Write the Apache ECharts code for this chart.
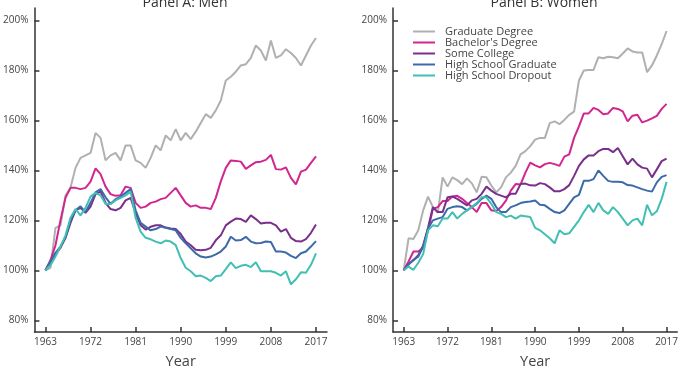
<!DOCTYPE html>
<html>
<head>
<meta charset="utf-8">
<script src="https://cdn.jsdelivr.net/npm/echarts@6/dist/echarts.min.js"></script>
<style>
  html, body { margin: 0; padding: 0; background: #fff; }
  #main { width: 681px; height: 374px; }
</style>
</head>
<body>
<div id="main"></div>
<script>
// years 1963..2017
var years = [];
for (var y = 1963; y <= 2017; y++) years.push(y);

var seriesNames = ['Graduate Degree', "Bachelor's Degree", 'Some College', 'High School Graduate', 'High School Dropout'];
var colors = ['#b0b0b0', '#d1268f', '#7a2f8c', '#3c6aa9', '#41bfb3'];
var yTicks = [80, 100, 120, 140, 160, 180, 200];
var xTicks = [1963, 1972, 1981, 1990, 1999, 2008, 2017];

// Panel A: Men
var gradM = [100, 101, 117, 118, 130, 133, 141, 145, 146, 147,
  155, 153, 144, 146, 147, 144, 150, 150, 144, 143,
  141, 145, 150, 148, 154, 152, 156.5, 152, 155, 152.5,
  155.5, 159, 162.5, 161, 164, 168, 176, 177.5, 179.5, 182,
  182.5, 185, 190, 188, 184, 192, 185, 186, 188.5, 187,
  185, 182, 186, 190, 193];
var bachM = [100, 104, 110, 120, 129, 133, 133, 132.5, 133, 135.5,
  140.8, 138.5, 133.5, 130.5, 129.8, 130, 133.5, 133, 127, 125,
  125.5, 127, 127.5, 128.5, 129, 131, 133, 130, 127, 125.5,
  126, 125, 125, 124.5, 129, 135.6, 141, 144, 143.8, 143.5,
  140.6, 142, 143.3, 143.5, 144.2, 146.2, 140.5, 140.3, 141.2, 137,
  134.4, 139.5, 140.3, 143, 145.6];
var someM = [100, 103, 106.5, 109, 113, 119, 124, 125, 123, 125.5,
  130.5, 131.5, 127, 124.5, 124, 125, 128, 129, 123, 118,
  116.3, 117.4, 118, 118, 117.1, 116.7, 116.5, 114.5, 111.5, 110,
  108.2, 108, 108.2, 109, 112, 114, 118, 119.5, 120.7, 120.5,
  119.4, 122, 120.5, 118.7, 119, 119, 118, 115.5, 116.5, 113,
  111.7, 111.5, 112.5, 115, 118.3];
var hsgM = [100, 103.5, 107, 109.5, 113, 120, 124, 125.6, 123.3, 127,
  131.2, 132.5, 129.2, 126.6, 128.5, 129.5, 131, 132.5, 124, 119,
  117.5, 116, 116.5, 117.5, 117, 116.5, 116, 113, 110.8, 108.8,
  106.8, 105.5, 105.1, 105.5, 106.4, 107.5, 109.5, 113.4, 111.9, 112.1,
  113.4, 111.5, 110.8, 110.9, 111.5, 111.3, 107.5, 107.5, 107.1, 105.8,
  104.9, 106.8, 107.5, 109.5, 111.7];
var hsdM = [100, 102, 105.5, 109.5, 114, 121, 124.5, 122, 125, 129.5,
  131, 130, 126.5, 126.5, 128, 129, 130, 131.5, 121, 115.5,
  113, 112.4, 111.5, 110.8, 111.9, 111.5, 110.1, 104.9, 101, 99.6,
  97.6, 97.9, 97, 95.7, 97.6, 97.9, 100.5, 103.2, 100.9, 101.8,
  102.2, 101.3, 103.2, 99.6, 99.6, 99.6, 99, 97.9, 99.6, 94.4,
  96.4, 99.2, 99, 102.2, 106.8];

// Panel B: Women
var gradW = [100, 112.8, 112.5, 116, 124, 129.5, 125.3, 123, 137.2, 133.5,
  137.2, 136.1, 134.5, 136.8, 134.8, 131.2, 137.4, 137.2, 133.9, 131.2,
  133.2, 137.2, 139.1, 141.8, 146.4, 147.7, 149.7, 152.3, 153, 153,
  158.9, 159.6, 158.5, 160.2, 162.2, 163.5, 176, 180, 180.2, 180.2,
  185.3, 184.9, 185.5, 185.3, 184.9, 186.8, 188.8, 187.6, 187.2, 187.2,
  179.3, 182, 186, 190.5, 195.8];
var bachW = [100, 103.5, 107.5, 107.5, 109, 116, 124.6, 125.3, 127.7, 127.7,
  129.5, 129.8, 128.6, 126.9, 125.3, 123.3, 126.9, 126.9, 124, 123.7,
  125.3, 127.9, 131.9, 134.5, 134.3, 139.1, 143.1, 142, 141.2, 142.5,
  143, 142.5, 141.8, 145.5, 146.4, 153, 157.6, 162.8, 162.8, 165,
  164.2, 162.5, 162.8, 165, 164.6, 163.6, 159.6, 161.9, 162.3, 159.2,
  159.9, 160.8, 161.8, 164.6, 166.6];
var someW = [100, 102.5, 104, 106, 110, 117, 125.3, 123.3, 123.3, 129.2,
  129.5, 128.6, 127.3, 126, 128, 128.6, 130.6, 133.5, 131.9, 130.6,
  129.9, 129.2, 130.6, 130.6, 134.5, 134.7, 134, 133.9, 134.9, 134.5,
  133.2, 131.6, 131.6, 132.5, 134.1, 137.8, 141.8, 144.4, 146, 146,
  147.7, 148.6, 148.6, 147.3, 149, 145.7, 142.4, 144.7, 142.4, 141.1,
  140.7, 137.2, 140.4, 143.7, 144.7];
var hsgW = [100, 102.3, 104.2, 105.5, 109.5, 116.7, 120, 120.7, 121.3, 124.6,
  125.3, 125.6, 125.3, 124, 125.3, 126.6, 128.6, 129.9, 128.6, 125.3,
  123.3, 123.3, 125.3, 126, 126.9, 127.3, 127.5, 127.9, 126.2, 126,
  124.6, 123.3, 122.9, 124, 126.6, 129.2, 130.2, 135.8, 135.8, 136.5,
  140, 137.8, 135.8, 135.4, 135.4, 135.2, 134.1, 133.9, 133.2, 132.5,
  131.9, 131.5, 135.2, 137.4, 138.1];
var hsdW = [100, 101.5, 100.2, 103, 106.5, 116, 118, 117.6, 120.7, 120.7,
  123.3, 120.7, 122.6, 124, 125.3, 126.9, 129.2, 129.2, 126.6, 123.3,
  122.6, 121.3, 121.9, 120.7, 121.9, 121.6, 121.3, 117, 116, 114.4,
  112.8, 110.8, 116, 114.4, 114.8, 117.4, 120, 123.3, 126.2, 123.3,
  127, 124, 122.6, 125.3, 123.3, 120.7, 118, 120, 120.7, 118,
  126.2, 122, 123.6, 128.6, 135.4];

var menData = [gradM, bachM, someM, hsgM, hsdM];
var womenData = [gradW, bachW, someW, hsgW, hsdW];

function pairs(vals) {
  return years.map(function (yr, i) { return [yr, vals[i]]; });
}

var font = 'Open Sans';
var axisColor = '#333';
var labelColor = '#444';

function makeX(idx) {
  return {
    type: 'value', gridIndex: idx, min: 1960.8, max: 2019.2,
    name: 'Year', nameLocation: 'middle', nameGap: 22,
    nameTextStyle: { fontFamily: font, fontSize: 14.5, color: labelColor },
    axisLine: { lineStyle: { color: axisColor, width: 1.5 } },
    axisTick: { inside: true, length: 5, customValues: xTicks, lineStyle: { color: axisColor, width: 1.5 } },
    axisLabel: { customValues: xTicks, margin: 5, fontFamily: font, fontSize: 10, color: labelColor,
      formatter: function (v) { return String(v); } },
    splitLine: { show: false }
  };
}
function makeY(idx) {
  return {
    type: 'value', gridIndex: idx, min: 75.3, max: 205,
    axisLine: { show: true, lineStyle: { color: axisColor, width: 1.5 } },
    axisTick: { show: true, inside: true, length: 5, customValues: yTicks, lineStyle: { color: axisColor, width: 1.5 } },
    axisLabel: { customValues: yTicks, margin: 6, fontFamily: font, fontSize: 10, color: labelColor,
      formatter: function (v) { return v + '%'; } },
    splitLine: { show: false }
  };
}

var series = [];
[menData, womenData].forEach(function (panel, p) {
  panel.forEach(function (vals, i) {
    series.push({
      name: seriesNames[i], type: 'line',
      xAxisIndex: p, yAxisIndex: p,
      data: pairs(vals),
      showSymbol: false, symbol: 'none',
      lineStyle: { width: 2, color: colors[i] },
      itemStyle: { color: colors[i] },
      animation: false
    });
  });
});

var myChart = echarts.init(document.getElementById('main'));
var option = {
  backgroundColor: '#fff',
  animation: false,
  title: [
    { text: 'Panel A: Men', left: 180, top: -9, textAlign: 'center',
      textStyle: { fontFamily: font, fontSize: 14, fontWeight: 'normal', color: '#333' } },
    { text: 'Panel B: Women', left: 539, top: -9, textAlign: 'center',
      textStyle: { fontFamily: font, fontSize: 14, fontWeight: 'normal', color: '#333' } }
  ],
  legend: {
    data: seriesNames,
    orient: 'vertical', left: 408, top: 21,
    icon: 'rect', itemWidth: 22, itemHeight: 2, itemGap: 0,
    textStyle: { fontFamily: font, fontSize: 11, color: '#444', lineHeight: 11, padding: [0, 0, 0, 5] }
  },
  grid: [
    { left: 34, top: 8, width: 293, height: 328 },
    { left: 393, top: 8, width: 293, height: 328 }
  ],
  xAxis: [makeX(0), makeX(1)],
  yAxis: [makeY(0), makeY(1)],
  series: series
};
myChart.setOption(option);
</script>
</body>
</html>
